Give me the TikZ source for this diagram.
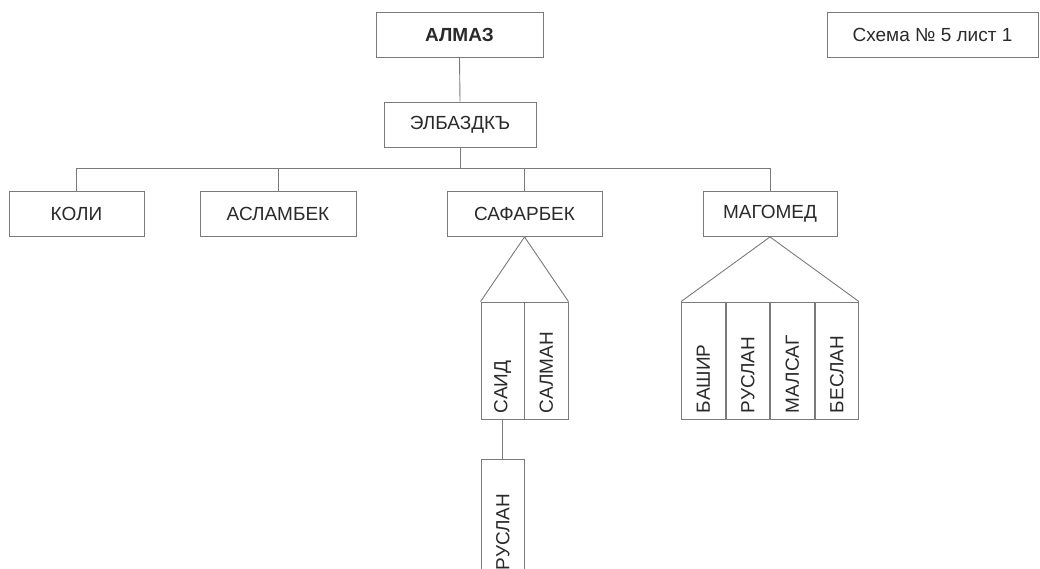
\documentclass[tikz,border=0pt]{standalone}
\usepackage{fontspec}
\setmainfont{Liberation Sans}
\usetikzlibrary{positioning}
\definecolor{linegray}{HTML}{7A7A7A}
\definecolor{textgray}{HTML}{2A2A2A}

\begin{document}
\begin{tikzpicture}[
  person/.style={draw=linegray,line width=0.9pt,fill=white,
                 minimum height=45pt,inner sep=2pt,
                 font=\fontsize{19}{21}\selectfont,text=textgray},
  child/.style={person,rotate=90,minimum height=43.5pt,
                text width=105pt,align=left,inner xsep=6pt},
  link/.style={draw=linegray,line width=0.9pt},
  x=1pt,y=-1pt
]
\useasboundingbox (0,0) rectangle (1040,568);
\clip (0,0) rectangle (1040,568);

\node[person,minimum width=167pt,
      font=\fontsize{19}{21}\selectfont\bfseries] (ALM) at (459.5,34.5) {АЛМАЗ};
\node[person,minimum width=211pt] (SCH) at (932.5,34.5) {Схема № 5 лист 1};
\node[person,minimum width=152pt] (ELB) at (460,124.5) {ЭЛБАЗДКЪ};

\node[person,minimum width=135pt] (KOL) at (76.5,214) {КОЛИ};
\node[person,minimum width=156pt] (ASL) at (278,214) {АСЛАМБЕК};
\node[person,minimum width=155pt] (SAF) at (524.5,214) {САФАРБЕК};
\node[person,minimum width=134pt] (MAG) at (770,214) {МАГОМЕД};

% children of SAF
\node[child] (SAI) at (502.75,360.5) {САИД};
\node[child] (SAL) at (546.25,360.5) {САЛМАН};
\node[child] (RUS) at (502.75,517.5) {РУСЛАН};

% children of MAG
\node[child] (BAS) at (703.25,360.5) {БАШИР};
\node[child] (RUM) at (747.75,360.5) {РУСЛАН};
\node[child] (MAL) at (792.25,360.5) {МАЛСАГ};
\node[child] (BES) at (836.75,360.5) {БЕСЛАН};

\coordinate (BUS) at (460,168);
\draw[link] (ALM.south) -- (ELB.north);
\draw[link] (ELB.south) -- (ELB.south |- BUS);
\draw[link] (KOL.north) -- (KOL.north |- BUS)
  -- (MAG.north |- BUS) -- (MAG.north);
\draw[link] (ASL.north) -- (ASL.north |- BUS);
\draw[link] (SAF.north) -- (SAF.north |- BUS);

\draw[link] (SAI.north east) -- (SAF.south) -- (SAL.south east);
\draw[link] (BAS.north east) -- (MAG.south) -- (BES.south east);
\draw[link] (SAI.west) -- (RUS.east);
\end{tikzpicture}
\end{document}
